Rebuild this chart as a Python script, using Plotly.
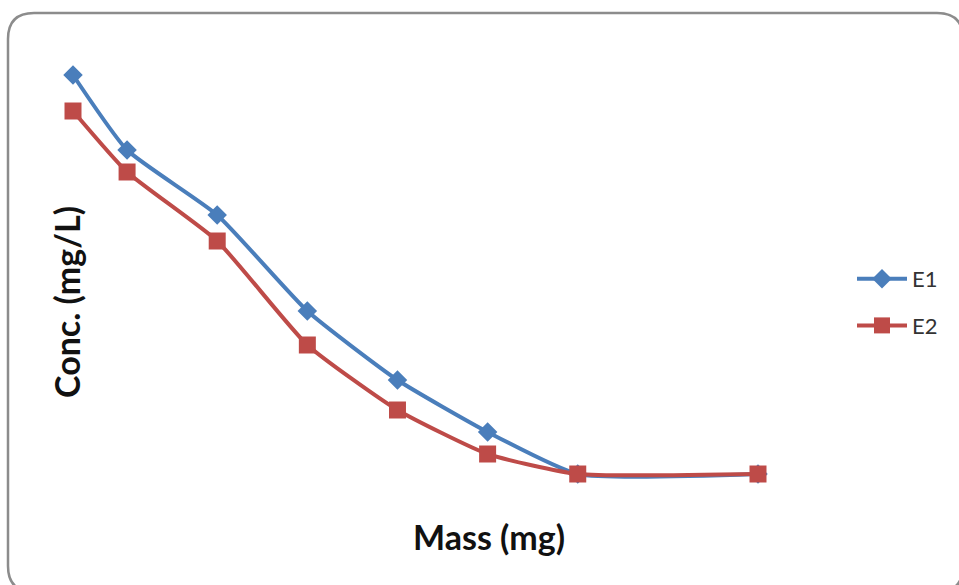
import plotly.graph_objects as go

# Data (mass in g-equivalent positions, concentration in mg/L)
mass = [0.02, 0.05, 0.10, 0.15, 0.20, 0.25, 0.30, 0.40]
e1 = [40.4, 32.9, 26.4, 16.8, 9.9, 4.7, 0.5, 0.5]
e2 = [36.8, 30.7, 23.8, 13.4, 6.9, 2.5, 0.5, 0.5]
series_names = ["E1", "E2"]

W, H = 959, 585
L, R, T, B = 50, 820, 40, 500

fig = go.Figure()
fig.add_trace(go.Scatter(
    x=mass, y=e1, name=series_names[0], mode="lines+markers", legendgroup="g1",
    line=dict(color="#4A7EBB", width=4, shape="spline", smoothing=0.5),
    marker=dict(symbol="diamond", size=15, color="#4A7EBB"),
))
fig.add_trace(go.Scatter(
    x=mass, y=e2, name=series_names[1], mode="lines+markers", legendgroup="g2",
    line=dict(color="#BE4B48", width=4, shape="spline", smoothing=0.5),
    marker=dict(symbol="square", size=17, color="#BE4B48"),
))

# axis mapping: 0.02 -> px 73, 0.40 -> px 758
sx = (758 - 73) / (0.40 - 0.02)
x0 = 0.02 - (73 - L) / sx
x1 = 0.40 + (R - 758) / sx
# y: 40.4 -> px 75, 0.5 -> px 474
sy = (474 - 75) / (40.4 - 0.5)
y1 = 40.4 + (75 - T) / sy
y0 = 0.5 - (B - 474) / sy

pw, ph = R - L, B - T
def px(xp):
    return (xp - L) / pw
def py(yp):
    return (B - yp) / ph

# rounded border path in paper coords
bx0, by0, bx1, by1, r = 8, 13, 963, 592, 26
path = (f"M {px(bx0+r)},{py(by0)} L {px(bx1-r)},{py(by0)} "
        f"Q {px(bx1)},{py(by0)} {px(bx1)},{py(by0+r)} "
        f"L {px(bx1)},{py(by1-r)} Q {px(bx1)},{py(by1)} {px(bx1-r)},{py(by1)} "
        f"L {px(bx0+r)},{py(by1)} Q {px(bx0)},{py(by1)} {px(bx0)},{py(by1-r)} "
        f"L {px(bx0)},{py(by0+r)} Q {px(bx0)},{py(by0)} {px(bx0+r)},{py(by0)} Z")

fig.update_layout(
    width=W, height=H,
    margin=dict(l=L, r=W - R, t=T, b=H - B),
    paper_bgcolor="white", plot_bgcolor="white",
    showlegend=True,
    legend=dict(x=px(852), y=py(258), xanchor="left", yanchor="top",
                font=dict(family="Lato, Open Sans, sans-serif", size=22, color="#333"),
                traceorder="grouped", tracegroupgap=15, itemwidth=50,
                bgcolor="rgba(0,0,0,0)"),
    xaxis=dict(range=[x0, x1], showgrid=False, zeroline=False, showline=False,
               showticklabels=False, ticks=""),
    yaxis=dict(range=[y0, y1], showgrid=False, zeroline=False, showline=False,
               showticklabels=False, ticks=""),
    shapes=[dict(type="path", path=path, xref="paper", yref="paper",
                 line=dict(color="#8C8C8C", width=2.5), layer="below")],
    annotations=[
        dict(text="<b>Mass (mg)</b>", x=px(489), y=py(536), xref="paper", yref="paper",
             showarrow=False, font=dict(family="Lato, Open Sans, sans-serif", size=34, color="#111"),
             xanchor="center", yanchor="middle"),
        dict(text="<b>Conc. (mg/L)</b>", x=px(66), y=py(302), xref="paper", yref="paper",
             showarrow=False, textangle=-90,
             font=dict(family="Lato, Open Sans, sans-serif", size=34, color="#111"),
             xanchor="center", yanchor="middle"),
    ],
)

fig.write_html("out.html")
